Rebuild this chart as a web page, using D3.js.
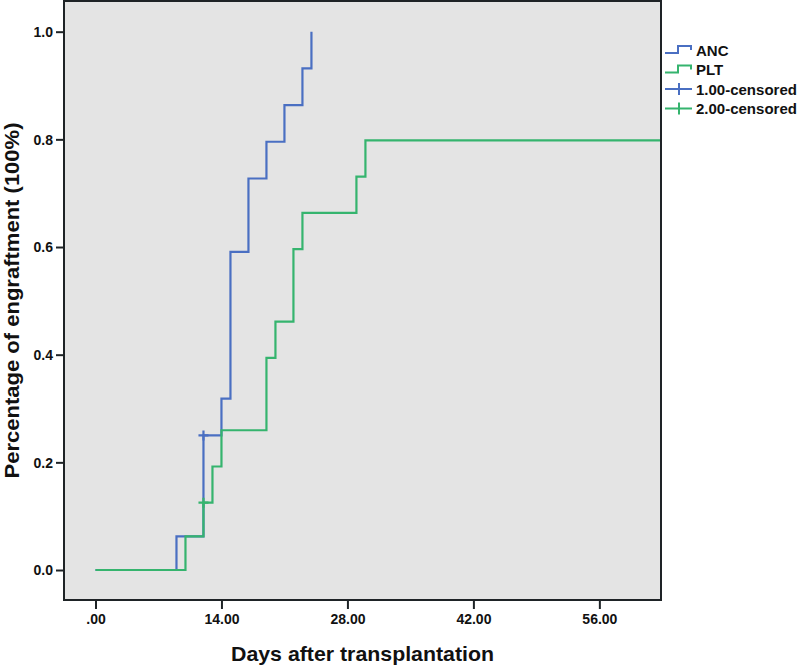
<!DOCTYPE html>
<html>
<head>
<meta charset="utf-8">
<script src="https://cdn.jsdelivr.net/npm/d3@7/dist/d3.min.js"></script>
<style>
  html, body { margin: 0; padding: 0; background: #ffffff; }
  svg { display: block; }
  text { font-family: "Liberation Sans", Arial, sans-serif; }
</style>
</head>
<body>
<svg id="chart" width="800" height="666"></svg>
<script>
// ---- data ----
const ancTimes  = [0, 9, 12, 14, 15, 17, 19, 21, 23, 24];
const ancValues = [0, 0.0625, 0.25, 0.3182, 0.5909, 0.7273, 0.7955, 0.8636, 0.9318, 1.0];

const pltTimes  = [0, 10, 12, 13, 14, 19, 20, 22, 23, 29, 30];
const pltValues = [0, 0.0625, 0.125, 0.1923, 0.2596, 0.3942, 0.4615, 0.5962, 0.6635, 0.7308, 0.7981];
const pltLastFollowUp = 64;

const ancCensoredTimes  = [12];
const ancCensoredValues = [0.25];
const pltCensoredTimes  = [12];
const pltCensoredValues = [0.125];

const xTicks = [0, 14, 28, 42, 56];
const yTicks = [0, 0.2, 0.4, 0.6, 0.8, 1.0];
const legendLabels = ["ANC", "PLT", "1.00-censored", "2.00-censored"];

const xTitle = "Days after transplantation";
const yTitle = "Percentage of engraftment (100%)";

// ---- styles ----
const colANC = "#4a6fc2";
const colPLT = "#35b46e";
const frameCol = "#1e2326";
const bg = "#e4e4e4";

const svg = d3.select("#chart");
const plot = { left: 64, right: 661, top: 1, bottom: 600 };

const x = d3.scaleLinear().domain([-3.5, 62.85]).range([plot.left, plot.right]);
const y = d3.scaleLinear().domain([-0.0557, 1.057]).range([plot.bottom, plot.top]);

// background
svg.append("rect")
  .attr("x", plot.left).attr("y", plot.top)
  .attr("width", plot.right - plot.left).attr("height", plot.bottom - plot.top)
  .attr("fill", bg);

svg.append("clipPath").attr("id", "clip")
  .append("rect")
  .attr("x", plot.left).attr("y", plot.top)
  .attr("width", plot.right - plot.left).attr("height", plot.bottom - plot.top);

const step = d3.line().x(d => x(d[0])).y(d => y(d[1])).curve(d3.curveStepAfter);

const ancData = ancTimes.map((t, i) => [t, ancValues[i]]);
const pltData = pltTimes.map((t, i) => [t, pltValues[i]]);
pltData.push([pltLastFollowUp, pltValues[pltValues.length - 1]]);

const g = svg.append("g").attr("clip-path", "url(#clip)");

// ANC drawn first, PLT on top
g.append("path").datum(ancData)
  .attr("d", step).attr("fill", "none")
  .attr("stroke", colANC).attr("stroke-width", 2.2);
g.append("path").datum(pltData)
  .attr("d", step).attr("fill", "none")
  .attr("stroke", colPLT).attr("stroke-width", 2.2);

// censor marks
function censor(times, values, col) {
  times.forEach((t, i) => {
    const cx = x(t), cy = y(values[i]);
    g.append("path")
      .attr("d", `M${cx - 5},${cy}H${cx + 5}M${cx},${cy - 5}V${cy + 5}`)
      .attr("stroke", col).attr("stroke-width", 2.2).attr("fill", "none");
  });
}
censor(ancCensoredTimes, ancCensoredValues, colANC);
censor(pltCensoredTimes, pltCensoredValues, colPLT);

// axes
const fmtX = v => v === 0 ? ".00" : d3.format(".2f")(v);
const fmtY = d3.format(".1f");

const xAxis = svg.append("g")
  .attr("transform", `translate(0,${plot.bottom})`)
  .call(d3.axisBottom(x).tickValues(xTicks).tickFormat(fmtX).tickSize(9).tickPadding(5));
const yAxis = svg.append("g")
  .attr("transform", `translate(${plot.left},0)`)
  .call(d3.axisLeft(y).tickValues(yTicks).tickFormat(fmtY).tickSize(8).tickPadding(3));

[xAxis, yAxis].forEach(a => {
  a.select(".domain").remove();
  a.selectAll(".tick line").attr("stroke", frameCol).attr("stroke-width", 2);
  a.selectAll(".tick text")
    .attr("fill", "#111")
    .style("font-family", "'Liberation Sans', Arial, sans-serif")
    .style("font-size", "14px")
    .style("font-weight", "bold");
});
yAxis.selectAll(".tick text").attr("dy", "0.35em");

// frame
svg.append("rect")
  .attr("x", plot.left).attr("y", plot.top)
  .attr("width", plot.right - plot.left).attr("height", plot.bottom - plot.top)
  .attr("fill", "none").attr("stroke", frameCol).attr("stroke-width", 2);

// axis titles
svg.append("text")
  .attr("x", (plot.left + plot.right) / 2).attr("y", 661)
  .attr("text-anchor", "middle")
  .attr("textLength", 263).attr("lengthAdjust", "spacingAndGlyphs")
  .style("font-size", "21px").style("font-weight", "bold").attr("fill", "#111")
  .text(xTitle);

svg.append("text")
  .attr("transform", `translate(19,${(plot.top + plot.bottom) / 2}) rotate(-90)`)
  .attr("text-anchor", "middle")
  .attr("textLength", 356).attr("lengthAdjust", "spacingAndGlyphs")
  .style("font-size", "21px").style("font-weight", "bold").attr("fill", "#111")
  .text(yTitle);

// legend
const legX = 665;
const legRows = [50, 69.5, 89, 108.5];
const legCols = [colANC, colPLT, colANC, colPLT];
legendLabels.forEach((lab, i) => {
  const cy = legRows[i];
  if (i < 2) {
    svg.append("path")
      .attr("d", `M${legX},${cy + 3}H${legX + 13}V${cy - 4}H${legX + 26}V${cy}`)
      .attr("fill", "none").attr("stroke", legCols[i]).attr("stroke-width", 2);
  } else {
    svg.append("path")
      .attr("d", `M${legX},${cy}H${legX + 27}M${legX + 14},${cy - 6}V${cy + 6}`)
      .attr("fill", "none").attr("stroke", legCols[i]).attr("stroke-width", 2);
  }
  svg.append("text")
    .attr("x", legX + 31).attr("y", cy + 5.5)
    .style("font-size", "15px").style("font-weight", "bold").attr("fill", "#111")
    .text(lab);
});
</script>
</body>
</html>
